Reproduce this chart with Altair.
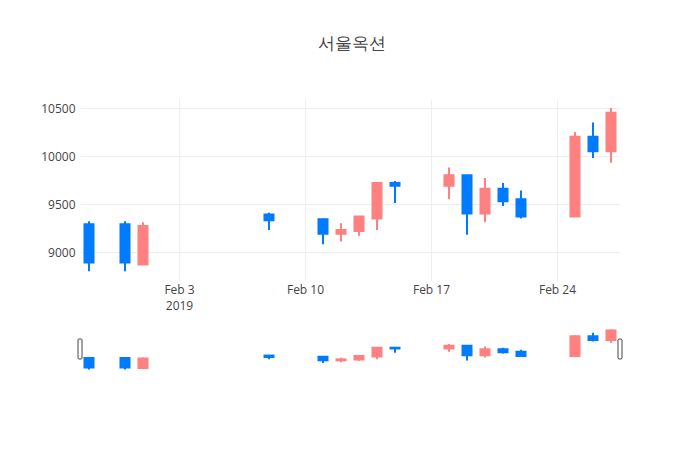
import pandas as pd
import altair as alt

# 서울옥션 daily prices, Jan 29 - Feb 27 2019
dates = ['2019-01-29', '2019-01-31', '2019-02-01', '2019-02-08', '2019-02-11',
         '2019-02-12', '2019-02-13', '2019-02-14', '2019-02-15', '2019-02-18',
         '2019-02-19', '2019-02-20', '2019-02-21', '2019-02-22', '2019-02-25',
         '2019-02-26', '2019-02-27']
opens = [9290, 9290, 8870, 9390, 9340, 9190, 9220, 9350, 9720, 9690,
         9800, 9400, 9660, 9550, 9370, 10200, 10050]
highs = [9320, 9320, 9310, 9410, 9350, 9300, 9370, 9720, 9740, 9880,
         9800, 9770, 9720, 9640, 10250, 10350, 10500]
lows = [8800, 8800, 8870, 9230, 9080, 9110, 9170, 9230, 9510, 9550,
        9180, 9310, 9480, 9350, 9370, 9980, 9930]
closes = [8890, 8890, 9270, 9330, 9190, 9230, 9370, 9720, 9690, 9800,
          9400, 9660, 9530, 9370, 10200, 10050, 10450]
y_ticks = [9000, 9500, 10000, 10500]
x_ticks = ['2019-02-03', '2019-02-10', '2019-02-17', '2019-02-24']

df = pd.DataFrame({
    'date': [d + 'T00:00:00' for d in dates],
    'open': opens, 'high': highs, 'low': lows, 'close': closes,
})
df['dir'] = ['up' if c >= o else 'down' for o, c in zip(opens, closes)]

start = alt.DateTime(year=2019, month=1, date=28, hours=12)
end = alt.DateTime(year=2019, month=2, date=27, hours=12)
x_scale = alt.Scale(domain=[start, end], padding=0)
y_scale = alt.Scale(domain=[8698, 10594], nice=False, zero=False)
c_scale = alt.Scale(domain=['up', 'down'], range=['#FF8080', '#007AFF'])

x_axis = alt.Axis(
    title=None, values=[alt.DateTime(year=2019, month=2, date=int(t[-2:])) for t in x_ticks],
    labelExpr="date(datum.value) == 3 ? [timeFormat(datum.value, '%b %-d'), '2019'] : timeFormat(datum.value, '%b %-d')",
    labelLineHeight=16, labelPadding=3, ticks=False, domain=False,
    gridColor='#eeeeee', labelColor='#444444', labelFontSize=12,
)
y_axis = alt.Axis(
    title=None, values=y_ticks, format='d', ticks=False, domain=False,
    labelPadding=5, gridColor='#eeeeee', labelColor='#444444', labelFontSize=12,
)


def candles(x_ax, y_ax):
    base = alt.Chart(df).encode(x=alt.X('date:T', scale=x_scale, axis=x_ax))
    wicks = base.mark_rule(strokeWidth=2).encode(
        y=alt.Y('low:Q', scale=y_scale, axis=y_ax), y2='high:Q',
        color=alt.Color('dir:N', scale=c_scale, legend=None),
    )
    bodies = base.mark_bar(size=9, strokeWidth=2).encode(
        y='open:Q', y2='close:Q',
        color=alt.Color('dir:N', scale=c_scale, legend=None),
        stroke=alt.Stroke('dir:N', scale=c_scale, legend=None),
    )
    return wicks + bodies


main = candles(x_axis, y_axis).properties(
    width=540, height=182,
    title=alt.TitleParams('서울옥션', fontSize=17, fontWeight='normal', color='#444444',
                          font='Open Sans', anchor='middle', frame='group', offset=46, dx=2),
)

handles = alt.Chart(pd.DataFrame({'edge': ['2019-01-28T12:00:00', '2019-02-27T12:00:00']})).mark_bar(
    size=4, fill='white', stroke='#444444', strokeWidth=1, cornerRadius=1
).encode(x=alt.X('edge:T', scale=x_scale, axis=None), y=alt.value(12), y2=alt.value(32))

slider = (candles(None, None) + handles).properties(width=540, height=45)

chart = alt.vconcat(main, slider, spacing=16).properties(
    padding={'left': 32, 'top': 27, 'right': 5, 'bottom': 5},
).configure(font='Open Sans').configure_view(stroke=None)

chart.save("out.html", embed_options={"renderer": "svg", "actions": False})
